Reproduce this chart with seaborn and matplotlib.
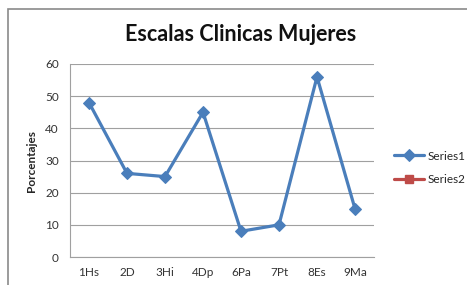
import matplotlib
matplotlib.use("Agg")
import matplotlib.pyplot as plt
import seaborn as sns
import pandas as pd
import numpy as np
from matplotlib.patches import Rectangle

categories = ["1Hs", "2D", "3Hi", "4Dp", "6Pa", "7Pt", "8Es", "9Ma"]
series1 = [48, 26, 25, 45, 8, 10, 56, 15]
yticks = [0, 10, 20, 30, 40, 50, 60]

sns.set_theme(style="white")
plt.rcParams['font.family'] = ['Lato', 'DejaVu Sans']

fig = plt.figure(figsize=(4.67, 2.85), dpi=100)
fig.patch.set_facecolor("white")
ax = fig.add_axes([70/467, 1-257/285, (374-70)/467, (257-64)/285])

df = pd.DataFrame({"cat": categories, "val": series1, "x": np.arange(len(categories))})
blue = "#4a7ebb"
red = "#be4b48"
sns.lineplot(data=df, x="x", y="val", ax=ax, color=blue, linewidth=2.3,
             marker="D", markersize=6, markeredgecolor=blue, label="Series1")
ax.plot([], [], color=red, linewidth=2.3, marker="s", markersize=5.5, label="Series2")

ax.set_xlim(-0.5, len(categories) - 0.5)
ax.set_ylim(0, 60)
ax.set_yticks(yticks)
ax.set_xticks(np.arange(len(categories)))
ax.set_xticklabels(categories)
ax.tick_params(axis="both", labelsize=8.5, colors="#333333", length=0)
ax.tick_params(axis="x", pad=7)
ax.tick_params(axis="y", pad=8)
ax.yaxis.grid(True, color="#a0a0a0", linewidth=0.8)
ax.xaxis.grid(False)
for s in ["top", "right"]:
    ax.spines[s].set_visible(False)
ax.spines["left"].set_color("#a0a0a0")
ax.spines["bottom"].set_color("#a0a0a0")
ax.spines["left"].set_linewidth(0.8)
ax.spines["bottom"].set_linewidth(0.8)
ax.set_xlabel("")
ax.set_ylabel("Porcentajes", fontsize=8.5, fontweight="bold", labelpad=6)

fig.text(241/467, 1-35/285, "Escalas Clinicas Mujeres", ha="center", va="center",
         fontsize=15.5, fontweight="bold", color="#111111")

leg = ax.legend(loc="center left", bbox_to_anchor=(383/467, 1-168/285),
                bbox_transform=fig.transFigure, frameon=False, fontsize=8.5,
                handlelength=2.6, labelspacing=1.1, handletextpad=0.3)

fig.add_artist(Rectangle((8/467, -0.1), 1.0, 1 - 9/285 + 0.1, transform=fig.transFigure,
                         fill=False, edgecolor="#8a8a8a", linewidth=1.2))

fig.savefig("out.png", dpi=100)
